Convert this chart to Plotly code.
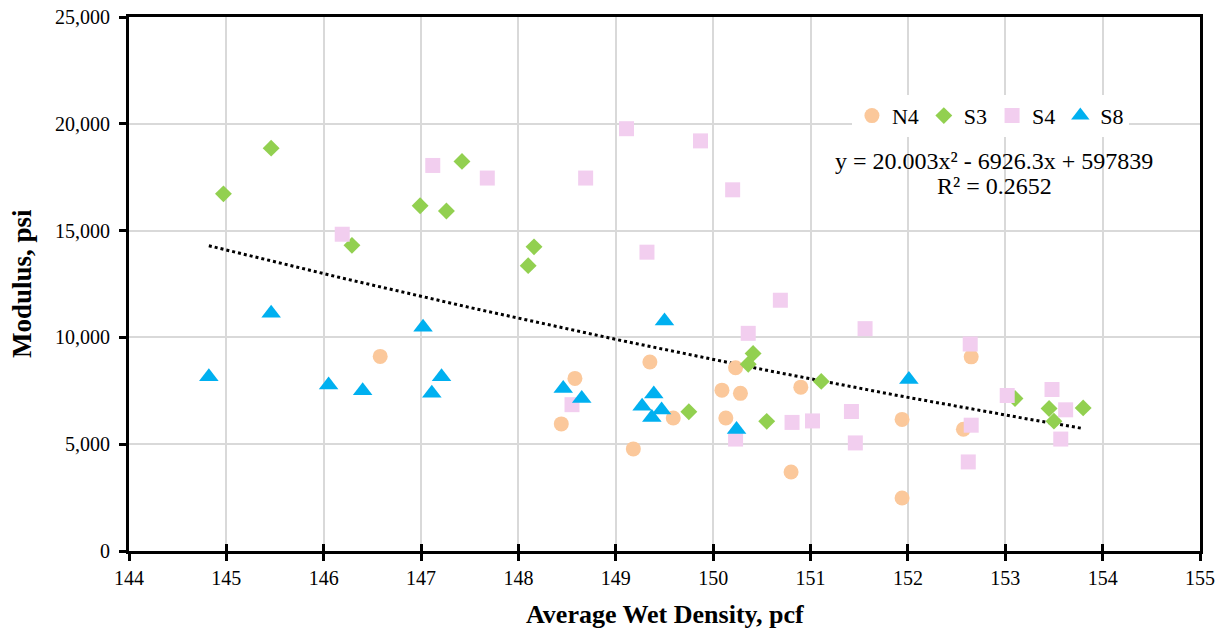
import numpy as np
import plotly.graph_objects as go

# ---- data ----
n4_x = [146.58, 148.58, 148.44, 149.35, 149.18, 149.59, 150.09, 150.13, 150.23, 150.28, 150.90, 150.80, 151.94, 151.94, 152.65, 152.57]
n4_y = [9110, 8080, 5950, 8850, 4780, 6230, 7530, 6230, 8580, 7380, 7670, 3700, 6160, 2480, 9090, 5700]

s3_x = [144.97, 145.46, 146.29, 146.99, 147.26, 147.42, 148.10, 148.16, 149.75, 150.36, 150.41, 150.55, 151.11, 153.10, 153.45, 153.50, 153.80]
s3_y = [16720, 18860, 14310, 16160, 15920, 18240, 13360, 14240, 6520, 8740, 9250, 6070, 7940, 7140, 6670, 6080, 6700]

s4_x = [146.19, 147.12, 147.68, 148.55, 148.69, 149.11, 149.32, 149.87, 150.20, 150.23, 150.36, 150.69, 150.81, 151.02, 151.42, 151.46, 151.56, 152.62, 152.64, 152.65, 153.02, 153.48, 153.57, 153.62]
s4_y = [14830, 18050, 17460, 6850, 17460, 19770, 13990, 19200, 16910, 5240, 10190, 11740, 6020, 6090, 6530, 5060, 10410, 4170, 9690, 5890, 7280, 7560, 5240, 6610]

s8_x = [144.82, 145.46, 146.05, 146.40, 147.02, 147.11, 147.21, 148.46, 148.65, 149.27, 149.37, 149.39, 149.47, 149.50, 150.24, 152.01]
s8_y = [8160, 11130, 7770, 7500, 10470, 7380, 8160, 7610, 7140, 6780, 6250, 7350, 6600, 10770, 5690, 8030]

trend_coefs = [20.003, -6926.3, 597839]
trend_lines = ["y = 20.003x² - 6926.3x + 597839", "R² = 0.2652"]

x_ticks = list(range(144, 156))
y_ticks = [0, 5000, 10000, 15000, 20000, 25000]

FONT = "'Times New Roman', 'Liberation Serif', serif"

fig = go.Figure()

all_x = n4_x + s3_x + s4_x + s8_x
tx = np.linspace(min(all_x), max(all_x), 200)
ty = np.polyval(trend_coefs, tx)
fig.add_trace(go.Scatter(x=tx, y=ty, mode="lines", showlegend=False,
                         line=dict(color="black", width=3, dash="dot"), hoverinfo="skip"))

series = [
    ("N4", n4_x, n4_y, "circle", "#FBC89B", 15),
    ("S3", s3_x, s3_y, "diamond", "#92D050", 13),
    ("S4", s4_x, s4_y, "square", "#F2CEEF", 15),
    ("S8", s8_x, s8_y, "triangle-up", "#00B0F0", 17),
]
for name, xs, ys, sym, col, sz in series:
    fig.add_trace(go.Scatter(x=xs, y=ys, mode="markers", name=name,
                             marker=dict(symbol=sym, color=col, size=sz, line=dict(width=0))))

# invisible trace on overlaid axis to draw inward tick marks crossing the x axis
fig.add_trace(go.Scatter(x=[144, 155], y=[0, 0], xaxis="x2", mode="markers",
                         marker=dict(opacity=0), showlegend=False, hoverinfo="skip"))

# white box behind the trend equation
fig.add_shape(type="rect", xref="paper", yref="paper", x0=0.647, x1=0.968,
              y0=(551 - 208) / 534, y1=(551 - 143) / 534,
              fillcolor="white", line=dict(width=0), layer="below")

for txt, yy in zip(trend_lines, [(551 - 160.5) / 534, (551 - 185.5) / 534]):
    fig.add_annotation(x=0.8077, y=yy, xref="paper", yref="paper", xanchor="center", yanchor="middle",
                       text=txt, showarrow=False,
                       font=dict(family=FONT, size=24, color="black"), align="center")

# axis titles placed as annotations to match the reference positions
fig.add_annotation(x=(22 - 129) / 1071, y=0.5, xref="paper", yref="paper", xanchor="center",
                   yanchor="middle", text="<b>Modulus, psi</b>", textangle=-90, showarrow=False,
                   font=dict(family=FONT, size=27, color="black"))
fig.add_annotation(x=0.5, y=(551 - 614) / 534, xref="paper", yref="paper", xanchor="center",
                   yanchor="middle", text="<b>Average Wet Density, pcf</b>", showarrow=False,
                   font=dict(family=FONT, size=26, color="black"))

fig.update_layout(
    width=1227, height=632,
    margin=dict(l=129, r=27, t=17, b=81, autoexpand=False),
    paper_bgcolor="white", plot_bgcolor="white",
    font=dict(family=FONT, size=20, color="black"),
    legend=dict(orientation="h", x=0.675, y=0.815, xanchor="left", yanchor="middle",
                bgcolor="white", font=dict(family=FONT, size=22), itemwidth=30,
                tracegroupgap=0, traceorder="normal"),
    xaxis=dict(range=[144, 155], tickvals=x_ticks, showgrid=True, gridcolor="#D9D9D9", gridwidth=1.5,
               showline=True, linecolor="black", linewidth=3, mirror=True,
               ticks="outside", ticklen=7, tickwidth=2.5, tickcolor="black",
               tickfont=dict(family=FONT, size=20), zeroline=False, automargin=False),
    xaxis2=dict(range=[144, 155], tickvals=x_ticks, overlaying="x", side="bottom", anchor="y",
                showgrid=False, showline=False, ticks="inside", ticklen=7, tickwidth=2.5,
                tickcolor="black", showticklabels=False, zeroline=False),
    yaxis=dict(range=[0, 25000], tickvals=y_ticks, tickformat=",d", showgrid=True, gridcolor="#D9D9D9",
               gridwidth=1.5, showline=True, linecolor="black", linewidth=3, mirror=True,
               ticks="outside", ticklen=7, tickwidth=2.5, tickcolor="black",
               tickfont=dict(family=FONT, size=20), zeroline=False, ticklabelstandoff=5, automargin=False),
)

fig.write_html("out.html")
